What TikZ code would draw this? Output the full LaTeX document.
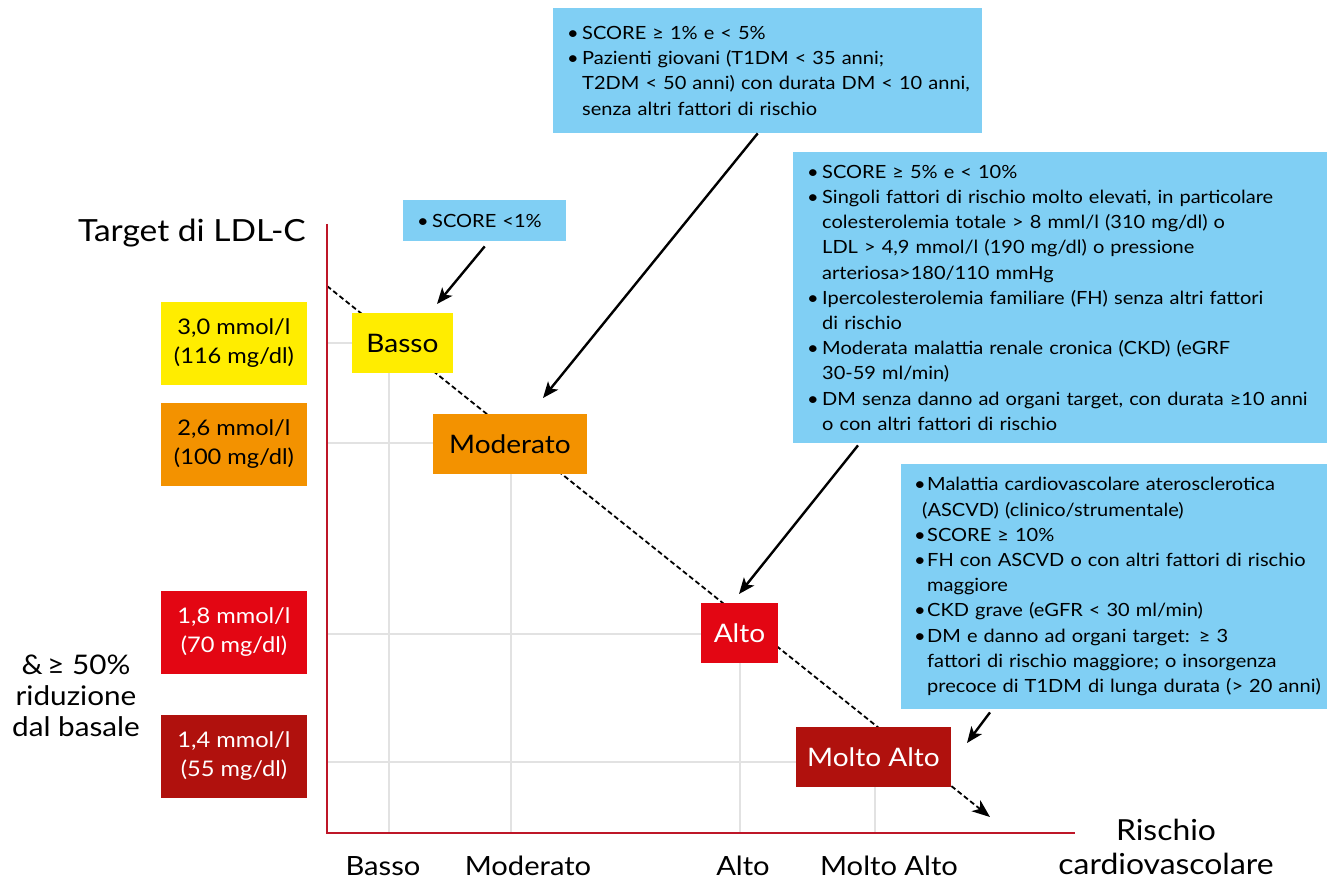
\documentclass[tikz,border=0pt]{standalone}
\usepackage{fontspec}
\setmainfont{Lato}[FakeStretch=1.1]
\usetikzlibrary{arrows.meta,calc}

\definecolor{cyellow}{RGB}{255,237,0}
\definecolor{corange}{RGB}{243,146,0}
\definecolor{cred}{RGB}{227,6,19}
\definecolor{cdark}{RGB}{176,17,13}
\definecolor{cblue}{RGB}{128,207,244}
\definecolor{caxis}{RGB}{190,22,40}
\definecolor{cgrid}{RGB}{226,226,226}

% one bulleted line and one continuation line, never broken
\newcommand\bulw{15pt}
\newcommand\bl[1]{\mbox{\makebox[\bulw][l]{•}#1}}
\newcommand\il[1]{\mbox{\hspace*{\bulw}#1}}

\tikzset{
  level/.style={rectangle, inner sep=0pt, minimum height=60pt,
    font=\fontsize{25.5}{30}\selectfont},
  target/.style={rectangle, inner sep=0pt, minimum width=146pt,
    minimum height=83pt, align=center, font=\fontsize{21.5}{29}\selectfont},
  bluebox/.style={rectangle, fill=cblue, anchor=north west, inner xsep=14pt,
    inner ysep=0pt, align=left, font=\fontsize{18.2}{25.2}\selectfont},
  label/.style={inner sep=0pt, align=center},
  gridline/.style={cgrid, line width=2pt},
  axis/.style={caxis, line width=2.5pt},
  conn/.style={-{Stealth[length=16pt,width=13pt,inset=4pt]}, line width=2.4pt},
  trend/.style={-{Stealth[length=18pt,width=14pt,inset=5pt]}, line width=1.8pt,
    dash pattern=on 5pt off 3pt},
}

\begin{document}
\begin{tikzpicture}[x=1pt, y=-1pt]
\useasboundingbox (0,0) rectangle (1333,882);

% axes reference points and grid levels
\coordinate (O) at (327,833);
\coordinate (ytop) at (327,224);
\coordinate (xend) at (1075,833);
\coordinate (g1) at (389,343);
\coordinate (g2) at (511,443);
\coordinate (g3) at (740,634);
\coordinate (g4) at (875,762);

% light grid
\foreach \g in {g1,g2,g3,g4}
  \draw[gridline] (O |- \g) -- (\g) -- (O -| \g);

% dashed trend line
\coordinate (trendstart) at (327,286);
\coordinate (trendend) at (990,817);
\draw[trend] (trendstart) -- (trendend);

% axes
\draw[axis] (ytop) -- (O) -- (xend);

% risk level boxes
\node[level, fill=cyellow, minimum width=101pt] (basso) at (402.5,343.5) {Basso};
\node[level, fill=corange, minimum width=154pt] (moderato) at (510,444) {Moderato};
\node[level, fill=cred, text=white, minimum width=77pt] (alto) at (739.5,633) {Alto};
\node[level, fill=cdark, text=white, minimum width=155pt] (moltoalto) at (873.5,757) {Molto Alto};

% LDL-C targets
\node[target, fill=cyellow] (t30) at (234,343.5) {3,0 mmol/l\\(116 mg/dl)};
\node[target, fill=corange] (t26) at (234,444.5) {2,6 mmol/l\\(100 mg/dl)};
\node[target, fill=cred, text=white] (t18) at (234,632.5) {1,8 mmol/l\\(70 mg/dl)};
\node[target, fill=cdark, text=white] (t14) at (234,756.5) {1,4 mmol/l\\(55 mg/dl)};

% axis titles
\node[label, font=\fontsize{30.5}{34}\selectfont, anchor=east] (ytitle) at (306,233) {Target di LDL-C};
\node[label, font=\fontsize{27}{31}\selectfont] (reduction) at (76,696)
  {\&\,≥ 50\%\\riduzione\\dal basale};
\node[label, font=\fontsize{29}{34}\selectfont] (xtitle) at (1166,847)
  {Rischio\\cardiovascolare};

% category labels on the horizontal axis
\node[label, font=\fontsize{26.5}{30}\selectfont] (lb1) at (383,866) {Basso};
\node[label, font=\fontsize{26.5}{30}\selectfont] (lb2) at (528,866) {Moderato};
\node[label, font=\fontsize{26.5}{30}\selectfont] (lb3) at (743,866) {Alto};
\node[label, font=\fontsize{26.5}{30}\selectfont] (lb4) at (889,866) {Molto Alto};

% criteria boxes
\node[bluebox, minimum width=163pt, minimum height=41pt, text width=135pt] (b1) at (403,200)
  {\bl{SCORE <1\%}};
\node[bluebox, minimum width=429pt, minimum height=125pt, text width=401pt] (b2) at (553,8)
  {\bl{SCORE ≥ 1\% e < 5\%}\\
   \bl{Pazienti giovani (T1DM < 35 anni;}\\
   \il{T2DM < 50 anni) con durata DM < 10 anni,}\\
   \il{senza altri fattori di rischio}\\[-3pt]};
\node[bluebox, minimum width=534pt, minimum height=291pt, text width=506pt] (b3) at (793,152)
  {\bl{SCORE ≥ 5\% e < 10\%}\\
   \bl{Singoli fattori di rischio molto elevati, in particolare}\\
   \il{colesterolemia totale > 8 mml/l (310 mg/dl) o}\\
   \il{LDL > 4,9 mmol/l (190 mg/dl) o pressione}\\
   \il{arteriosa>180/110 mmHg}\\
   \bl{Ipercolesterolemia familiare (FH) senza altri fattori}\\
   \il{di rischio}\\
   \bl{Moderata malattia renale cronica (CKD) (eGRF}\\
   \il{30-59 ml/min)}\\
   \bl{DM senza danno ad organi target, con durata ≥10 anni}\\
   \il{o con altri fattori di rischio}};
\node[bluebox, minimum width=426pt, minimum height=245pt, inner xsep=13pt,
      text width=400pt] (b4) at (901,464)
  {\renewcommand\bulw{13pt}%
   \bl{Malattia cardiovascolare aterosclerotica}\\
   \mbox{\hspace*{8pt}(ASCVD) (clinico/strumentale)}\\
   \bl{SCORE ≥ 10\%}\\
   \bl{FH con ASCVD o con altri fattori di rischio}\\
   \il{maggiore}\\
   \bl{CKD grave (eGFR < 30 ml/min)}\\
   \bl{DM e danno ad organi target: ≥ 3}\\
   \il{fattori di rischio maggiore; o insorgenza}\\
   \il{precoce di T1DM di lunga durata (> 20 anni)}};

% connectors from criteria to risk levels
\coordinate (a1) at ($(b1.south)+(0,5)$);
\coordinate (a2) at ($(b2.south)+(-10,0)$);
\coordinate (a3) at ($(b3.south west)+(65,2)$);
\coordinate (a4) at ($(b4.south west)+(89,3)$);
\coordinate (e1) at (437,304);
\coordinate (e2) at (543,398);
\coordinate (e3) at (739,594);
\coordinate (e4) at (967,743);
\draw[conn] (a1) -- (e1);
\draw[conn] (a2) -- (e2);
\draw[conn] (a3) -- (e3);
\draw[conn] (a4) -- (e4);
\end{tikzpicture}
\end{document}
